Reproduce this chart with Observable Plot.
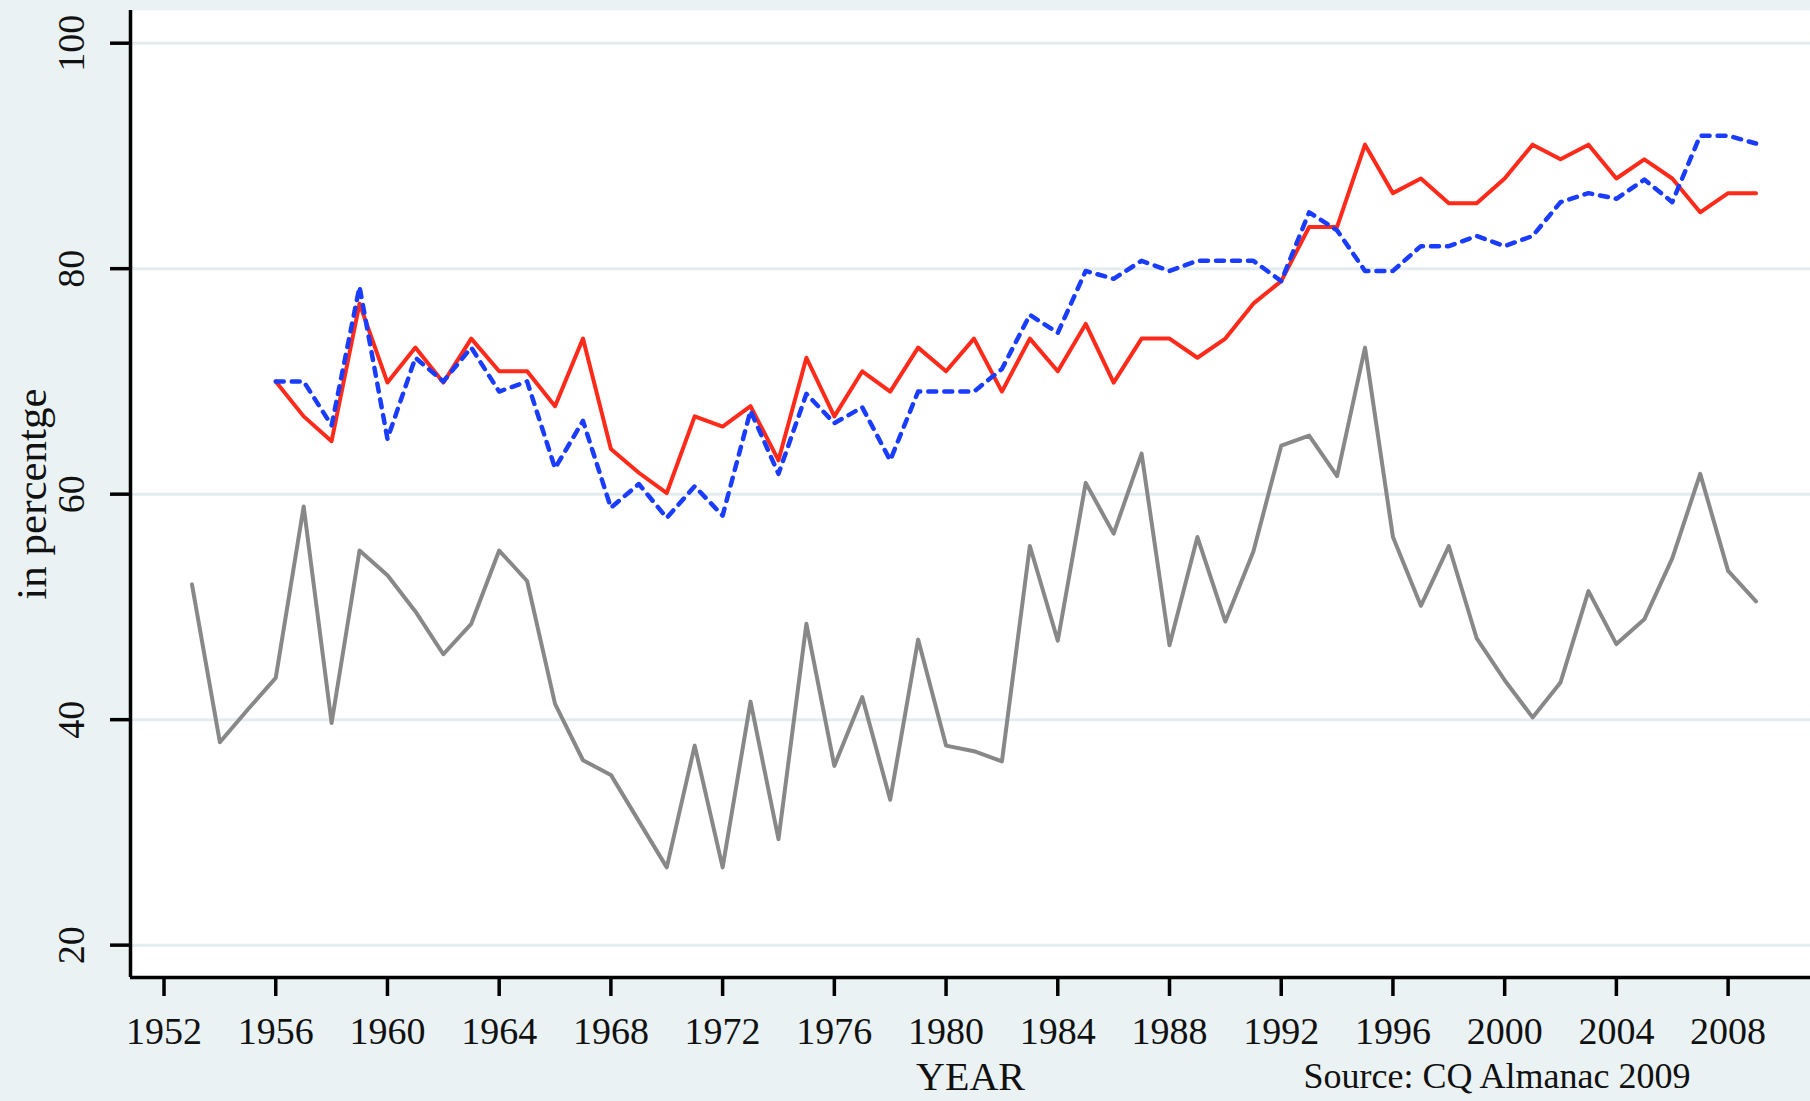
<!DOCTYPE html>
<html>
<head>
<meta charset="utf-8">
<script src="https://cdn.jsdelivr.net/npm/d3@7"></script>
<script src="https://cdn.jsdelivr.net/npm/@observablehq/plot@0.6"></script>
<style>
  html, body { margin: 0; padding: 0; background: #eaf2f4; }
  #chart svg { display: block; }
</style>
</head>
<body>
<div id="chart"></div>
<script>
// ---- data ----
const grayYears = d3.range(1953, 2010);
const grayValues = [
  52.0, 38.0, 40.9, 43.7, 58.9, 39.7, 55.0, 52.8, 49.6, 45.8,
  48.5, 55.0, 52.3, 41.4, 36.4, 35.1, 31.0, 26.9, 37.7, 26.9,
  41.6, 29.4, 48.5, 35.9, 42.0, 32.9, 47.1, 37.7, 37.2, 36.3,
  55.4, 47.0, 61.0, 56.5, 63.6, 46.6, 56.2, 48.7, 54.9, 64.3,
  65.2, 61.6, 73.0, 56.2, 50.1, 55.4, 47.2, 43.5, 40.2, 43.3,
  51.4, 46.7, 48.9, 54.3, 61.8, 53.2, 50.5
];
const partyYears = d3.range(1956, 2010);
const redValues = [
  70.0, 66.9, 64.7, 76.9, 69.9, 73.0, 69.9, 73.8, 70.9, 70.9,
  67.8, 73.8, 64.0, 61.9, 60.1, 66.9, 66.0, 67.8, 63.0, 72.1,
  66.9, 70.9, 69.1, 73.0, 70.9, 73.8, 69.1, 73.8, 70.9, 75.1,
  69.9, 73.8, 73.8, 72.1, 73.8, 76.9, 78.9, 83.7, 83.7, 91.0,
  86.7, 88.0, 85.8, 85.8, 88.0, 91.0, 89.7, 91.0, 88.0, 89.7,
  88.0, 85.0, 86.7, 86.7
];
const blueValues = [
  70.0, 70.0, 66.1, 78.4, 64.9, 72.1, 70.0, 73.0, 69.1, 70.0,
  62.3, 66.5, 58.8, 60.9, 57.9, 60.7, 58.1, 67.4, 61.8, 68.9,
  66.3, 67.7, 63.0, 69.1, 69.1, 69.1, 71.1, 75.9, 74.3, 79.8,
  79.1, 80.7, 79.8, 80.7, 80.7, 80.7, 78.9, 85.0, 83.4, 79.8,
  79.8, 82.0, 82.0, 82.9, 82.0, 82.9, 85.9, 86.7, 86.2, 87.9,
  85.9, 91.8, 91.8, 91.1
];
const xTicks = d3.range(1952, 2009, 4);
const yTicks = [20, 40, 60, 80, 100];
const xDomain = [1950.8, 2010.95];
const yDomain = [17.13, 102.9];

const gray = grayYears.map((year, i) => ({year, value: grayValues[i]}));
const red = partyYears.map((year, i) => ({year, value: redValues[i]}));
const blue = partyYears.map((year, i) => ({year, value: blueValues[i]}));

const font = "'Liberation Serif', 'DejaVu Serif', serif";

const chart = Plot.plot({
  width: 1810,
  height: 1101,
  marginLeft: 130,
  marginRight: 0,
  marginTop: 10,
  marginBottom: 124,
  style: {background: "#eaf2f4", fontFamily: font, color: "#111"},
  x: {domain: xDomain},
  y: {domain: yDomain},
  marks: [
    Plot.frame({fill: "white", stroke: null}),
    Plot.ruleY(yTicks, {stroke: "#e3edf0", strokeWidth: 3}),
    Plot.line(gray, {x: "year", y: "value", stroke: "#888888", strokeWidth: 4}),
    Plot.line(red, {x: "year", y: "value", stroke: "#ff2a1a", strokeWidth: 4}),
    Plot.line(blue, {x: "year", y: "value", stroke: "#1a3cff", strokeWidth: 4.5, strokeDasharray: "8,8"}),
    Plot.ruleX([xDomain[0]], {stroke: "#000", strokeWidth: 3.5}),
    Plot.ruleY([yDomain[0]], {stroke: "#000", strokeWidth: 3.5}),
    Plot.axisX({ticks: xTicks, tickSize: 19, tickPadding: 21, tickFormat: d => String(d),
      fontSize: 38, stroke: "#000", strokeWidth: 3.5, fill: "#111", label: null}),
    Plot.axisY({ticks: yTicks, tickSize: 20, tickFormat: () => "", stroke: "#000", strokeWidth: 3.5, label: null}),
    Plot.text(yTicks, {y: d => d, text: d => String(d), frameAnchor: "left", dx: -59,
      rotate: -90, fontSize: 38, textAnchor: "middle", lineAnchor: "middle", fill: "#111"}),
    Plot.text(["in percentge"], {text: d => d, frameAnchor: "left", dx: -98, rotate: -90,
      fontSize: 43, textAnchor: "middle", lineAnchor: "middle", fill: "#111"}),
    Plot.text(["YEAR"], {text: d => d, frameAnchor: "bottom", dy: 100, fontSize: 40,
      textAnchor: "middle", lineAnchor: "middle", fill: "#111"}),
    Plot.text(["Source: CQ Almanac 2009"], {text: d => d, frameAnchor: "bottom-right", dx: -120, dy: 99,
      fontSize: 36, textAnchor: "end", lineAnchor: "middle", fill: "#111"})
  ]
});
document.getElementById("chart").append(chart);
</script>
</body>
</html>
